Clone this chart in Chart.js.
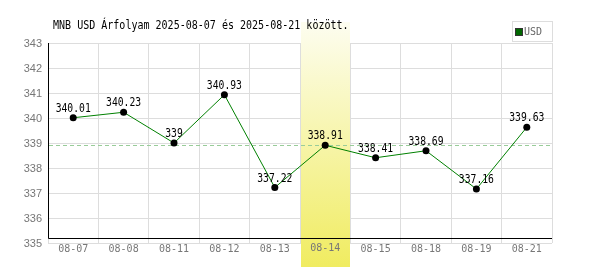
<!DOCTYPE html>
<html>
<head>
<meta charset="utf-8">
<script src="https://cdn.jsdelivr.net/npm/chart.js@4/dist/chart.umd.min.js"></script>
<style>
  html, body { margin: 0; padding: 0; background: #fff; }
  #wrap { width: 600px; height: 270px; }
</style>
</head>
<body>
<div id="wrap"><canvas id="arfolyam" width="600" height="270"></canvas></div>
<script>
var labels = ["08-07", "08-08", "08-11", "08-12", "08-13", "08-14", "08-15", "08-18", "08-19", "08-21"];
var values = [340.01, 340.23, 339, 340.93, 337.22, 338.91, 338.41, 338.69, 337.16, 339.63];
var valueText = ["340.01", "340.23", "339", "340.93", "337.22", "338.91", "338.41", "338.69", "337.16", "339.63"];
var selectedIndex = 5;
var titleText = "MNB USD Árfolyam 2025-08-07 és 2025-08-21 között.";
var legendText = "USD";

var mono = "'DejaVu Sans Mono', 'Liberation Mono', monospace";

// keskenyebb monospace szöveg (mint az eredeti bitmap font)
function narrowText(ctx, txt, x, y, align, sx) {
    ctx.save();
    ctx.font = "12px " + mono;
    var w = ctx.measureText(txt).width * sx;
    var left = align === "center" ? x - w / 2 : x;
    ctx.translate(left, y);
    ctx.scale(sx, 1);
    ctx.textAlign = "left";
    ctx.textBaseline = "alphabetic";
    ctx.fillText(txt, 0, 0);
    ctx.restore();
}

// sárga sáv a kiválasztott nap mögött + tengelyvonalak + szaggatott vonal
var bandPlugin = {
    id: "band",
    beforeDatasetsDraw: function (chart) {
        var ctx = chart.ctx;
        var x = chart.scales.x;
        var y = chart.scales.y;
        var area = chart.chartArea;
        var half = (x.getPixelForValue(1) - x.getPixelForValue(0)) / 2;
        var cx = x.getPixelForValue(selectedIndex);
        var top = 22;
        var bottom = chart.height - 3;
        var grad = ctx.createLinearGradient(0, top, 0, bottom);
        grad.addColorStop(0, "#fdfdf0");
        grad.addColorStop(1, "#f0ec60");
        ctx.save();
        ctx.fillStyle = grad;
        ctx.fillRect(Math.round(cx - half) + 1, top, Math.round(half * 2) - 1, bottom - top);

        // szaggatott referenciavonal a kiválasztott nap értékénél
        var refY = Math.round(y.getPixelForValue(values[selectedIndex])) + 0.5;
        ctx.strokeStyle = "#99cc99";
        ctx.lineWidth = 1;
        ctx.setLineDash([4, 3]);
        ctx.beginPath();
        ctx.moveTo(area.left + 1, refY);
        ctx.lineTo(area.right, refY);
        ctx.stroke();
        ctx.setLineDash([]);

        // fekete tengelyek
        var axisY = Math.round(y.getPixelForValue(335.2)) + 0.5;
        ctx.strokeStyle = "#000";
        ctx.beginPath();
        ctx.moveTo(area.left + 0.5, area.top);
        ctx.lineTo(area.left + 0.5, axisY);
        ctx.lineTo(area.right, axisY);
        ctx.stroke();

        // a kiválasztott nap felirata a sáv fölött
        ctx.font = "10px " + mono;
        ctx.fillStyle = "#777";
        ctx.textAlign = "center";
        ctx.textBaseline = "middle";
        ctx.fillText(labels[selectedIndex], cx, 248);
        ctx.restore();
    }
};

var textPlugin = {
    id: "texts",
    afterDraw: function (chart) {
        var ctx = chart.ctx;
        var meta = chart.getDatasetMeta(0);
        ctx.save();
        ctx.fillStyle = "#000";
        narrowText(ctx, titleText, 53, 29, "left", 0.835);
        meta.data.forEach(function (pt, i) {
            narrowText(ctx, valueText[i], pt.x, pt.y - 6, "center", 0.81);
        });
        // jelmagyarázat
        ctx.strokeStyle = "#dddddd";
        ctx.lineWidth = 1;
        ctx.strokeRect(512.5, 21.5, 40, 20);
        ctx.fillStyle = "#006600";
        ctx.fillRect(516, 29, 6, 6);
        ctx.strokeStyle = "#333";
        ctx.strokeRect(515.5, 28.5, 7, 7);
        ctx.fillStyle = "#666";
        ctx.font = "10px " + mono;
        ctx.textAlign = "left";
        ctx.textBaseline = "middle";
        ctx.fillText(legendText, 524, 32);
        ctx.restore();
    }
};

var ctx = document.getElementById("arfolyam").getContext("2d");
var chart = new Chart(ctx, {
    type: "line",
    data: {
        labels: labels,
        datasets: [
            {
                label: legendText,
                data: values,
                borderColor: "#008000",
                borderWidth: 1,
                pointRadius: 3.5,
                pointBackgroundColor: "#000",
                pointBorderColor: "#000",
                pointBorderWidth: 0,
                tension: 0,
                fill: false,
            },
        ],
    },
    options: {
        responsive: false,
        animation: false,
        layout: { padding: { top: 43, left: 0, right: 48, bottom: 0 } },
        plugins: {
            legend: { display: false },
            tooltip: { enabled: false },
            title: { display: false },
        },
        scales: {
            x: {
                offset: true,
                grid: {
                    offset: true,
                    color: "#dddddd",
                    drawTicks: false,
                },
                border: { display: false },
                ticks: {
                    color: "#777",
                    font: { family: mono, size: 10 },
                    padding: 0,
                    maxRotation: 0,
                    autoSkip: false,
                },
                afterFit: function (s) { s.height = 27; },
            },
            y: {
                min: 335,
                max: 343,
                grid: { color: "#dddddd", drawTicks: false },
                border: { display: false },
                ticks: {
                    stepSize: 1,
                    color: "#777",
                    font: { family: "'Liberation Sans', Arial, sans-serif", size: 11 },
                    padding: 6,
                    labelOffset: 1,
                },
                afterFit: function (s) { s.width = 48; },
            },
        },
    },
    plugins: [bandPlugin, textPlugin],
});
</script>
</body>
</html>
